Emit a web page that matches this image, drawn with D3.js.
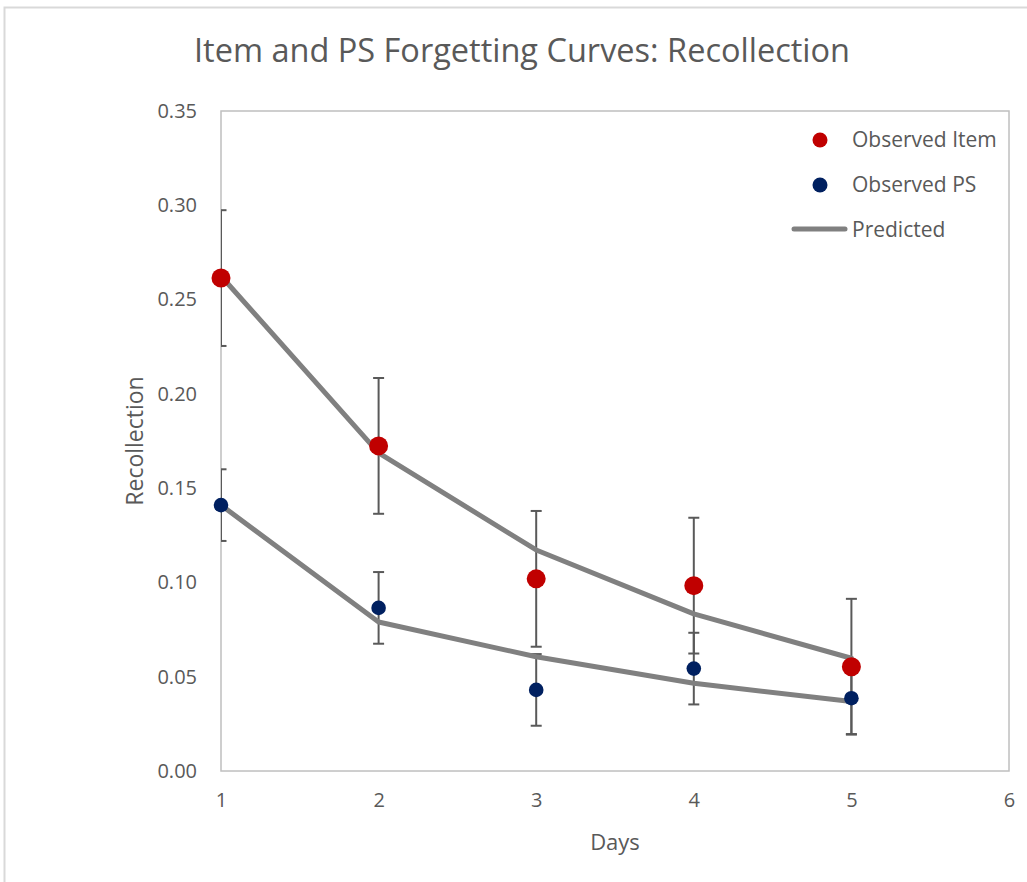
<!DOCTYPE html>
<html>
<head>
<meta charset="utf-8">
<script src="https://cdn.jsdelivr.net/npm/d3@7"></script>
<style>
  body { margin: 0; background: #fff; }
  text { font-family: "Open Sans", sans-serif; fill: #595959; }
</style>
</head>
<body>
<div id="vis-svg"></div>
<script>
// chart data
var days = [1, 2, 3, 4, 5];
var itemObserved = [0.2614, 0.1724, 0.1019, 0.0983, 0.0553];
var itemError = [0.036, 0.036, 0.036, 0.036, 0.036];
var psObserved = [0.1410, 0.0865, 0.0430, 0.0543, 0.0386];
var psError = [0.019, 0.019, 0.019, 0.019, 0.019];
var itemPredicted = [0.2625, 0.1687, 0.1172, 0.0833, 0.0598];
var psPredicted = [0.1410, 0.0790, 0.0606, 0.0465, 0.0368];
var xTicks = [1, 2, 3, 4, 5, 6];
var yTicks = [0, 0.05, 0.10, 0.15, 0.20, 0.25, 0.30, 0.35];
var legendLabels = ["Observed Item", "Observed PS", "Predicted"];

var width = 1027;
var height = 882;
var margin = {left: 221, right: 18, top: 111, bottom: 111};

var svg = d3
.select("#vis-svg")
.append("svg")
.attr("width", width)
.attr("height", height);

// outer chart border
svg.append("rect")
.attr("x", 4.5).attr("y", 7.5)
.attr("width", width + 20).attr("height", height + 20)
.attr("fill", "none")
.attr("stroke", "#d9d9d9")
.attr("stroke-width", 2);

var x = d3.scaleLinear().domain([1, 6]).range([margin.left, width - margin.right]);
var y = d3.scaleLinear().domain([0, 0.35]).range([height - margin.bottom, margin.top]);

svg.append("clipPath").attr("id", "plot-clip")
.append("rect")
.attr("x", x(1)).attr("y", y(0.35))
.attr("width", x(6) - x(1)).attr("height", y(0) - y(0.35));

// plot area frame
svg.append("rect")
.attr("x", x(1)).attr("y", y(0.35))
.attr("width", x(6) - x(1)).attr("height", y(0) - y(0.35))
.attr("fill", "none")
.attr("stroke", "#bfbfbf")
.attr("stroke-width", 1.5);

// axes
var yAxis = svg.append("g")
.attr("transform", "translate(" + x(1) + ",0)")
.call(d3.axisLeft(y).tickValues(yTicks).tickFormat(d3.format(".2f")).tickSize(0).tickPadding(24));
var xAxis = svg.append("g")
.attr("transform", "translate(0," + y(0) + ")")
.call(d3.axisBottom(x).tickValues(xTicks).tickFormat(d3.format("d")).tickSize(0).tickPadding(22));
[yAxis, xAxis].forEach(function (a) {
  a.select(".domain").remove();
  a.selectAll("text").style("font-size", "20px").attr("fill", "#595959").style("font-family", "'Open Sans', sans-serif");
});

// title and axis titles
svg.append("text")
.attr("x", 522).attr("y", 62)
.attr("text-anchor", "middle")
.style("font-size", "32.5px")
.text("Item and PS Forgetting Curves: Recollection");

svg.append("text")
.attr("x", (x(1) + x(6)) / 2).attr("y", 850)
.attr("text-anchor", "middle")
.style("font-size", "22px")
.text("Days");

svg.append("text")
.attr("transform", "translate(143," + y(0.175) + ") rotate(-90)")
.attr("text-anchor", "middle")
.style("font-size", "23px")
.text("Recollection");

var plot = svg.append("g");

function errorBars(values, errors) {
  var g = plot.append("g").attr("clip-path", "url(#plot-clip)")
  .attr("stroke", "#595959").attr("stroke-width", 2);
  var rows = days.map(function (d, i) { return {d: d, v: values[i], e: errors[i]}; });
  g.selectAll(".bar").data(rows).enter().append("line")
  .attr("x1", function (r) { return x(r.d); }).attr("x2", function (r) { return x(r.d); })
  .attr("y1", function (r) { return y(r.v + r.e); }).attr("y2", function (r) { return y(r.v - r.e); });
  ["top", "bottom"].forEach(function (side) {
    g.selectAll(".cap-" + side).data(rows).enter().append("line")
    .attr("x1", function (r) { return x(r.d) - 5.5; }).attr("x2", function (r) { return x(r.d) + 5.5; })
    .attr("y1", function (r) { return y(side === "top" ? r.v + r.e : r.v - r.e); })
    .attr("y2", function (r) { return y(side === "top" ? r.v + r.e : r.v - r.e); });
  });
}
errorBars(itemObserved, itemError);
errorBars(psObserved, psError);

var line = d3.line()
.x(function (d, i) { return x(days[i]); })
.y(function (d) { return y(d); });

[itemPredicted, psPredicted].forEach(function (series) {
  plot.append("path")
  .datum(series)
  .attr("d", line)
  .attr("fill", "none")
  .attr("stroke", "#808080")
  .attr("stroke-width", 5)
  .attr("stroke-linejoin", "round")
  .attr("stroke-linecap", "round");
});

plot.selectAll(".item-dot").data(itemObserved).enter().append("circle")
.attr("cx", function (d, i) { return x(days[i]); })
.attr("cy", function (d) { return y(d); })
.attr("r", 9.5)
.attr("fill", "#c00000");

plot.selectAll(".ps-dot").data(psObserved).enter().append("circle")
.attr("cx", function (d, i) { return x(days[i]); })
.attr("cy", function (d) { return y(d); })
.attr("r", 7.3)
.attr("fill", "#002060");

// legend
var legend = svg.append("g").attr("transform", "translate(820,140)");
legend.append("circle").attr("cx", 0).attr("cy", 0).attr("r", 7.5).attr("fill", "#c00000");
legend.append("circle").attr("cx", 0).attr("cy", 45).attr("r", 7.5).attr("fill", "#002060");
legend.append("line")
.attr("x1", -26).attr("x2", 25).attr("y1", 89).attr("y2", 89)
.attr("stroke", "#808080").attr("stroke-width", 5).attr("stroke-linecap", "round");
legend.selectAll(".label").data(legendLabels).enter().append("text")
.attr("x", 32)
.attr("y", function (d, i) { return i * 45; })
.attr("dy", "0.35em")
.style("font-size", "21px")
.text(function (d) { return d; });
</script>
</body>
</html>
